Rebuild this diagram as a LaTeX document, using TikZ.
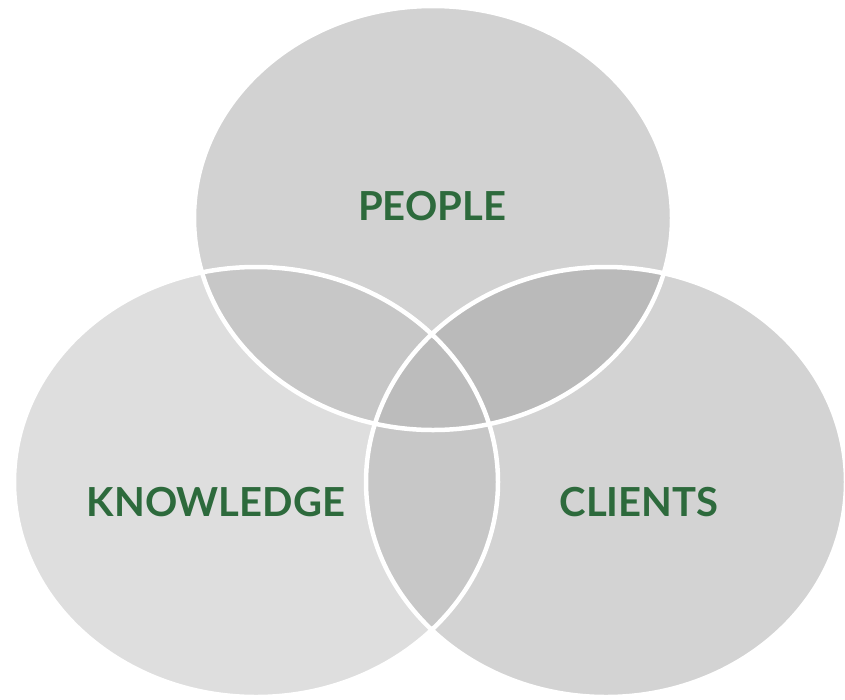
\documentclass[tikz,border=0pt]{standalone}
\usepackage{fontspec}
\setmainfont{Lato}
\definecolor{cTop}{HTML}{D2D2D2}
\definecolor{cLeft}{HTML}{DEDEDE}
\definecolor{cRight}{HTML}{D3D3D3}
\definecolor{cTL}{HTML}{C7C7C7}
\definecolor{cTR}{HTML}{BABABA}
\definecolor{cLR}{HTML}{C7C7C7}
\definecolor{cC}{HTML}{BCBCBC}
\definecolor{txt}{HTML}{2D6A3C}
\tikzset{
  lbl/.style={text=txt, font=\fontsize{40}{42}\selectfont\bfseries, inner sep=0pt},
  rim/.style={draw=white, line width=4.5pt}
}
\begin{document}
\begin{tikzpicture}[x=1pt,y=-1pt]
\useasboundingbox (0,0) rectangle (845,699);
% base fills
\fill[cLeft] (256,482) ellipse [x radius=242, y radius=215];
\fill[cRight] (606,482) ellipse [x radius=240, y radius=215];
\fill[cTop] (433,218) ellipse [x radius=239, y radius=212];
% pairwise overlaps
\begin{scope}
  \clip (433,218) ellipse [x radius=239, y radius=212];
  \fill[cTL] (256,482) ellipse [x radius=242, y radius=215];
\end{scope}
\begin{scope}
  \clip (433,218) ellipse [x radius=239, y radius=212];
  \fill[cTR] (606,482) ellipse [x radius=240, y radius=215];
\end{scope}
\begin{scope}
  \clip (256,482) ellipse [x radius=242, y radius=215];
  \fill[cLR] (606,482) ellipse [x radius=240, y radius=215];
\end{scope}
\begin{scope}
  \clip (256,482) ellipse [x radius=242, y radius=215];
  \clip (606,482) ellipse [x radius=240, y radius=215];
  \fill[cC] (433,218) ellipse [x radius=239, y radius=212];
\end{scope}
% white rims
\draw[rim] (256,482) ellipse [x radius=242, y radius=215];
\draw[rim] (606,482) ellipse [x radius=240, y radius=215];
\draw[rim] (433,218) ellipse [x radius=239, y radius=212];
% labels
\node[lbl] (people) at (432,206) {PEOPLE};
\node[lbl] (knowledge) at (216,502) {KNOWLEDGE};
\node[lbl] (clients) at (639,502) {CLIENTS};
\end{tikzpicture}
\end{document}
